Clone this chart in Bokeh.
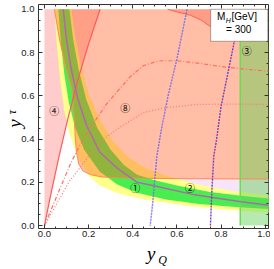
from bokeh.plotting import figure
from bokeh.models import Range1d, LinearAxis, Label, BoxAnnotation, FixedTicker, PrintfTickFormatter, CustomJSTickFormatter
from bokeh.embed import file_html
from bokeh.resources import INLINE

# ---- data ----
x_ticks = [0.0, 0.2, 0.4, 0.6, 0.8, 1.0]
minor_ticks = [0.0, 0.05, 0.1, 0.15, 0.2, 0.25, 0.3, 0.35, 0.4, 0.45, 0.5, 0.55, 0.6, 0.65, 0.7, 0.75, 0.8, 0.85, 0.9, 0.95, 1.0]

# region 4 boundary (solid red line)
r4_x = [0.0, 0.03, 0.066, 0.105, 0.153, 0.20, 0.252]
r4_y = [0.0, 0.15, 0.32, 0.49, 0.68, 0.84, 1.0]

# region 8 lower/left boundary
r8_x = [0.045, 0.07, 0.10, 0.125, 0.135, 0.14, 0.145, 0.155, 0.175, 0.21, 0.26, 0.35, 0.6, 1.015]
r8_y = [1.0, 0.85, 0.72, 0.63, 0.5, 0.4, 0.34, 0.285, 0.252, 0.235, 0.225, 0.22, 0.217, 0.215]

# upper arc region
arc_x = [0.558, 0.60, 0.662, 0.71, 0.752, 0.80]
arc_y = [1.0, 0.988, 0.972, 0.95, 0.92, 0.885]

# region 3 (vertical strip)
r3_x = [0.887, 1.015]
r3_y = [0.0, 1.0]

# light lavender strip
lav_x = [0.45, 1.015]
lav_y = [0.13, 0.215]

# best-fit line and bands
center_x = [0.085, 0.10, 0.12, 0.15, 0.19, 0.25, 0.33, 0.42, 0.49, 0.68, 0.89, 1.02]
center_y = [1.0, 0.86, 0.73, 0.59, 0.465, 0.34, 0.265, 0.2, 0.185, 0.142, 0.11, 0.094]

green_lo_x = [0.063, 0.075, 0.09, 0.11, 0.14, 0.18, 0.25, 0.33, 0.42, 0.55, 0.70, 0.85, 1.02]
green_lo_y = [1.0, 0.84, 0.70, 0.57, 0.45, 0.35, 0.25, 0.19, 0.152, 0.12, 0.10, 0.087, 0.076]
green_hi_x = [0.113, 0.13, 0.155, 0.19, 0.24, 0.30, 0.36, 0.42, 0.50, 0.60, 0.75, 0.90, 1.02]
green_hi_y = [1.0, 0.86, 0.72, 0.58, 0.45, 0.35, 0.28, 0.235, 0.21, 0.185, 0.155, 0.137, 0.125]

yel_lo_x = [0.045, 0.055, 0.07, 0.09, 0.115, 0.15, 0.20, 0.25, 0.33, 0.42, 0.50, 0.65, 0.80, 1.02]
yel_lo_y = [1.0, 0.85, 0.68, 0.53, 0.42, 0.32, 0.23, 0.185, 0.15, 0.127, 0.112, 0.09, 0.074, 0.059]
yel_hi_x = [0.122, 0.14, 0.165, 0.20, 0.25, 0.31, 0.38, 0.46, 0.55, 0.70, 0.85, 1.02]
yel_hi_y = [1.0, 0.87, 0.74, 0.61, 0.49, 0.39, 0.315, 0.265, 0.23, 0.19, 0.16, 0.14]

# dash-dot and dotted curves from the origin
dd_x = [0.0, 0.07, 0.12, 0.16, 0.22, 0.28, 0.33, 0.39, 0.45, 0.52, 0.60, 0.70, 0.80, 0.90, 1.015]
dd_y = [0.0, 0.17, 0.29, 0.37, 0.47, 0.56, 0.62, 0.69, 0.74, 0.762, 0.762, 0.75, 0.735, 0.724, 0.713]
dot_x = [0.0, 0.11, 0.20, 0.27, 0.33, 0.45, 0.55, 0.69, 0.85, 1.015]
dot_y = [0.0, 0.20, 0.32, 0.40, 0.447, 0.523, 0.545, 0.56, 0.562, 0.56]

# near-vertical dotted lines
va_x = [0.479, 0.49, 0.509, 0.529, 0.56, 0.60, 0.646]
va_y = [0.0, 0.1, 0.32, 0.44, 0.6, 0.77, 1.0]
vb_x = [0.752, 0.758, 0.767, 0.78, 0.80, 0.83, 0.865, 0.89]
vb_y = [0.0, 0.15, 0.32, 0.40, 0.55, 0.70, 0.875, 1.0]

region_labels = ["①", "②", "③", "④", "⑧"]
label_x = [0.411, 0.659, 0.917, 0.044, 0.366]
label_y = [0.177, 0.177, 0.808, 0.53, 0.545]

y_top = 1.0
x_left = 0.0
NB = "\u00a0"

# ---- figure ----
p = figure(width=270, height=269, x_range=Range1d(-0.027, 1.015), y_range=Range1d(-0.0135, 1.022),
           output_backend="svg", toolbar_location=None,
           min_border_left=37, min_border_right=2, min_border_top=4, min_border_bottom=36)
p.grid.visible = False
p.outline_line_color = "#333333"
p.outline_line_width = 1
p.background_fill_color = "white"

# lavender
p.patch([lav_x[0], lav_x[1], lav_x[1], lav_x[0]], [lav_y[0], lav_y[0], lav_y[1], lav_y[1]],
        fill_color="#F6E4FA", line_color=None)
# region 4 pink
p.patch(r4_x + [x_left], r4_y + [y_top], fill_color="#FF8080", fill_alpha=0.4, line_color=None)
# bands
p.patch(yel_hi_x + yel_lo_x[::-1], yel_hi_y + yel_lo_y[::-1], fill_color="#FFFF8C", line_color=None)
p.patch(green_hi_x + green_lo_x[::-1], green_hi_y + green_lo_y[::-1], fill_color="#48EE50", line_color=None)
# region 8 salmon
p.patch(r8_x + [r8_x[-1], r8_x[0]], r8_y + [y_top, y_top], fill_color="#FF5D1E", fill_alpha=0.4, line_color=None)
# arc region
p.patch(arc_x + [arc_x[-1]], arc_y + [y_top], fill_color="#FF5040", fill_alpha=0.3, line_color=None)
# region 3
p.patch([r3_x[0], r3_x[1], r3_x[1], r3_x[0]], [r3_y[0], r3_y[0], r3_y[1], r3_y[1]],
        fill_color="#60D050", fill_alpha=0.45, line_color=None)

# boundary lines
p.line(r8_x, r8_y, line_color="#FF8A50", line_width=1)
p.line(arc_x, arc_y, line_color="#FF6050", line_width=1)
p.line(r4_x, r4_y, line_color="#FF5A5A", line_width=1.2)
p.line([r3_x[0], r3_x[0]], r3_y, line_color="#66E050", line_width=1.5)

# best fit
p.line(center_x, center_y, line_color="#B862B4", line_width=1.5)

# curves from origin
p.line(dd_x, dd_y, line_color="#FF7060", line_width=1.2, line_dash="4 2 1 2")
p.line(dot_x, dot_y, line_color="#FF7575", line_width=1.2, line_dash="1 2")

# near-vertical lines
p.line(va_x, va_y, line_color="#A868D8", line_width=1.4, line_dash="1 2")
p.line(va_x, va_y, line_color="#5070FF", line_width=1.4, line_dash="1 2", line_dash_offset=1)
p.line(vb_x, vb_y, line_color="#C83070", line_width=1.4, line_dash="2 4")
p.line(vb_x, vb_y, line_color="#3848FF", line_width=1.4, line_dash="2 4", line_dash_offset=3)

# region labels
for t, lx, ly in zip(region_labels, label_x, label_y):
    p.add_layout(Label(x=lx, y=ly, text=t, text_align="center", text_baseline="middle",
                       text_font="Noto Sans CJK JP", text_font_size="10px", text_color="black"))

# box
p.add_layout(BoxAnnotation(left=0.753, right=1.012, bottom=0.852, top=1.0,
                           fill_color="white", fill_alpha=1.0, line_color="black", line_width=1,
                           level="annotation"))
box_font = "Liberation Sans"
p.add_layout(Label(x=0.782, y=0.941, text="M", text_font=box_font, text_font_size="10px", text_color="black"))
p.add_layout(Label(x=0.821, y=0.932, text="H", text_font=box_font, text_font_size="7px",
                   text_font_style="italic", text_color="black"))
p.add_layout(Label(x=0.847, y=0.941, text="[GeV]", text_font=box_font, text_font_size="10px", text_color="black"))
p.add_layout(Label(x=0.88, y=0.883, text="= 300", text_align="center", text_font=box_font,
                   text_font_size="10px", text_color="black"))

serif = "Liberation Serif"

def style_ticks(ax):
    ax.major_tick_in = 4
    ax.major_tick_out = 0
    ax.minor_tick_in = 2
    ax.minor_tick_out = 0
    ax.axis_line_color = None
    ax.major_tick_line_color = "#333333"
    ax.minor_tick_line_color = "#333333"

# main axes
for ax in [p.xaxis[0], p.yaxis[0]]:
    ax.ticker = FixedTicker(ticks=x_ticks, minor_ticks=minor_ticks)
    ax.formatter = PrintfTickFormatter(format="%.1f")
    style_ticks(ax)
    ax.major_label_text_font = "Liberation Sans"
    ax.major_label_text_font_size = "9.5px"
    ax.major_label_text_color = "#222222"
    ax.axis_label_text_font = serif
    ax.axis_label_text_font_style = "italic"
    ax.axis_label_text_color = "black"

xa = p.xaxis[0]
xa.major_label_standoff = 2
xa.axis_label = "y" + NB
xa.axis_label_text_font_size = "19px"
xa.axis_label_standoff = 3

ya = p.yaxis[0]
ya.major_label_standoff = 4
ya.axis_label = NB * 3 + "τ"
ya.axis_label_text_font_size = "12px"
ya.axis_label_standoff = -1

# companion axes carrying the second part of each axis title
xq = LinearAxis(ticker=FixedTicker(ticks=[]), axis_label=NB * 6 + "Q")
xq.axis_line_color = None
xq.major_tick_in = 0
xq.major_tick_out = 0
xq.minor_tick_in = 0
xq.minor_tick_out = 0
xq.major_label_standoff = 0
xq.axis_label_text_font = serif
xq.axis_label_text_font_style = "italic"
xq.axis_label_text_font_size = "12px"
xq.axis_label_text_color = "black"
xq.axis_label_standoff = -14
p.add_layout(xq, "below")

yy = LinearAxis(ticker=FixedTicker(ticks=[]), axis_label="y" + NB * 3)
yy.axis_line_color = None
yy.major_tick_in = 0
yy.major_tick_out = 0
yy.minor_tick_in = 0
yy.minor_tick_out = 0
yy.major_label_standoff = 0
yy.axis_label_text_font = serif
yy.axis_label_text_font_style = "italic"
yy.axis_label_text_font_size = "19px"
yy.axis_label_text_color = "black"
yy.axis_label_standoff = -22
p.add_layout(yy, "left")

# mirrored tick axes (top and right)
for loc in ["above", "right"]:
    ax = LinearAxis(ticker=FixedTicker(ticks=x_ticks, minor_ticks=minor_ticks),
                    formatter=CustomJSTickFormatter(code="return ''"))
    style_ticks(ax)
    ax.major_label_text_font_size = "0px"
    ax.major_label_standoff = 0
    p.add_layout(ax, loc)

open("out.html", "w").write(file_html(p, INLINE))
